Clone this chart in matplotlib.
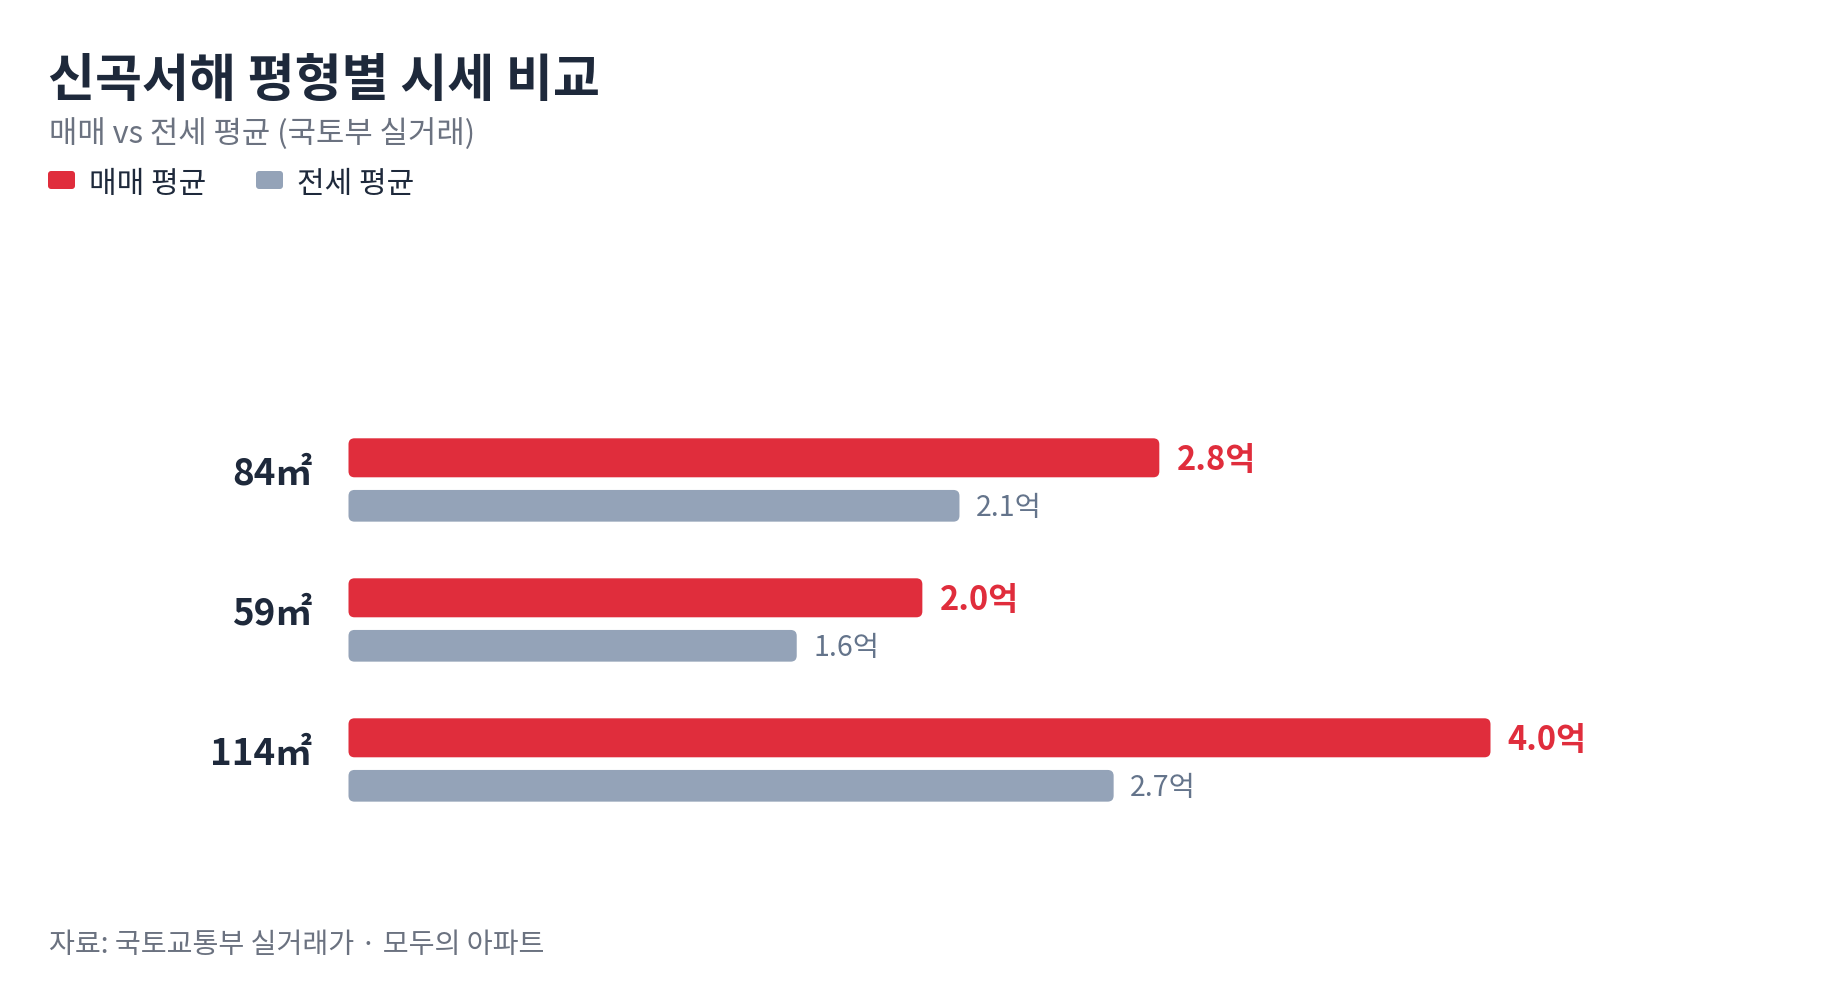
import matplotlib.pyplot as plt
from matplotlib.patches import FancyBboxPatch

plt.rcParams['font.family'] = ['Noto Sans CJK KR', 'DejaVu Sans']

# data (억 원)
sizes = ['84㎡', '59㎡', '114㎡']
sale_avg = [2.84, 2.01, 4.00]
jeonse_avg = [2.14, 1.57, 2.68]

title = '신곡서해 평형별 시세 비교'
subtitle = '매매 vs 전세 평균 (국토부 실거래)'
legend_labels = ['매매 평균', '전세 평균']
source = '자료: 국토교통부 실거래가 · 모두의 아파트'

RED = '#e02d3c'
GRAY = '#94a3b8'
DARK = '#1e293b'
MUTED = '#6b7280'

W, H = 1840, 988
fig = plt.figure(figsize=(W / 100, H / 100), dpi=100)
fig.patch.set_facecolor('white')


def fx(px):
    return px / W


def fy(py):
    return 1 - py / H


# axes: x 0..5 over 1427.5 px, groups 140 px apart
ax = fig.add_axes([fx(348.5), 1 - 831.8 / H, 1427.5 / W, 420 / H])
ax.set_xlim(0, 5)
ax.set_ylim(2.5, -0.5)
ax.axis('off')

ypos = list(range(len(sizes)))
off = 24 / 140
b1 = ax.barh([y - off for y in ypos], sale_avg, height=39 / 140, color=RED)
b2 = ax.barh([y + off for y in ypos], jeonse_avg, height=31.7 / 140, color=GRAY)


def round_bars(bars, color, r=0.021, aspect=2.04):
    for b in bars:
        b.set_visible(False)
        ax.add_patch(FancyBboxPatch((b.get_x(), b.get_y()), b.get_width(), b.get_height(),
                                    boxstyle=f'round,pad=0,rounding_size={r}',
                                    mutation_aspect=aspect, fc=color, ec='none'))


round_bars(b1, RED)
round_bars(b2, GRAY)

for y, v in zip(ypos, sale_avg):
    ax.annotate(f'{v:.1f}억', xy=(v, y - off), xytext=(12.5, -8.6), textcoords='offset points',
                ha='left', va='baseline', fontsize=23.5, fontweight='bold', color=RED)
for y, v in zip(ypos, jeonse_avg):
    ax.annotate(f'{v:.1f}억', xy=(v, y + off), xytext=(12, -7), textcoords='offset points',
                ha='left', va='baseline', fontsize=20.5, color='#64748b')
for y, lab in zip(ypos, sizes):
    ax.annotate(lab, xy=(0, y), xytext=(-26.3, -2.3), textcoords='offset points',
                ha='right', va='baseline', fontsize=26.5, fontweight='bold', color=DARK)

# header
fig.text(fx(48), fy(56), title, fontsize=36.8, fontweight='bold', color=DARK, ha='left', va='top')
fig.text(fx(49), fy(118), subtitle, fontsize=22.2, color=MUTED, ha='left', va='top')

# legend
for (sx, tx), lab, col in zip([(48, 89), (256, 297)], legend_labels, [RED, GRAY]):
    fig.patches.append(FancyBboxPatch((fx(sx), fy(189)), fx(27), 18 / H,
                                      boxstyle='round,pad=0,rounding_size=0.0017',
                                      mutation_aspect=W / H, fc=col, ec='none',
                                      transform=fig.transFigure, figure=fig))
    fig.text(fx(tx), fy(193), lab, fontsize=21.6, color=DARK, ha='left', va='baseline')

# footer
fig.text(fx(49), fy(930), source, fontsize=20.3, color=MUTED, ha='left', va='top')

fig.savefig('out.png', dpi=100, facecolor='white')
